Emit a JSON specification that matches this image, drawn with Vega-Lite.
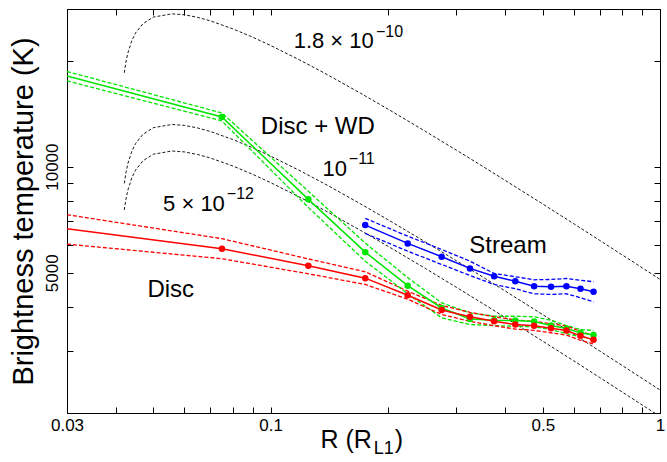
{
  "$schema": "https://vega.github.io/schema/vega-lite/v6.json",
  "width": 593,
  "height": 404,
  "autosize": {"type": "none"},
  "padding": {"left": 67, "top": 9, "right": 7, "bottom": 49},
  "background": "white",
  "config": {
    "view": {"stroke": "black", "strokeWidth": 1},
    "font": "Liberation Sans",
    "axis": {"grid": false, "domainColor": "black", "tickColor": "black", "labelColor": "black", "titleColor": "black", "labelFont": "Liberation Sans", "titleFont": "Liberation Sans", "labelFontSize": 17, "titleFontWeight": "normal", "labelOverlap": false, "labelFlush": false}
  },
  "datasets": {
    "models": [
      {"rate": "5e-12", "R": 0.0421, "T": 7537}, {"rate": "5e-12", "R": 0.0425, "T": 8072}, {"rate": "5e-12", "R": 0.043, "T": 8579}, {"rate": "5e-12", "R": 0.044, "T": 9292}, {"rate": "5e-12", "R": 0.045, "T": 9777}, {"rate": "5e-12", "R": 0.047, "T": 10387}, {"rate": "5e-12", "R": 0.05, "T": 10845}, {"rate": "5e-12", "R": 0.0558, "T": 11074}, {"rate": "5e-12", "R": 0.06, "T": 11010}, {"rate": "5e-12", "R": 0.065, "T": 10822}, {"rate": "5e-12", "R": 0.07, "T": 10580}, {"rate": "5e-12", "R": 0.08, "T": 10039}, {"rate": "5e-12", "R": 0.09, "T": 9506}, {"rate": "5e-12", "R": 0.1, "T": 9008}, {"rate": "5e-12", "R": 0.12, "T": 8145}, {"rate": "5e-12", "R": 0.14, "T": 7439}, {"rate": "5e-12", "R": 0.17, "T": 6598}, {"rate": "5e-12", "R": 0.2, "T": 5948}, {"rate": "5e-12", "R": 0.25, "T": 5138}, {"rate": "5e-12", "R": 0.3, "T": 4546}, {"rate": "5e-12", "R": 0.35, "T": 4094}, {"rate": "5e-12", "R": 0.4, "T": 3734}, {"rate": "5e-12", "R": 0.5, "T": 3197}, {"rate": "5e-12", "R": 0.6, "T": 2813}, {"rate": "5e-12", "R": 0.7, "T": 2522}, {"rate": "5e-12", "R": 0.8, "T": 2293}, {"rate": "5e-12", "R": 0.9, "T": 2108}, {"rate": "5e-12", "R": 1.0, "T": 1955},
      {"rate": "1e-11", "R": 0.0421, "T": 8963}, {"rate": "1e-11", "R": 0.0425, "T": 9599}, {"rate": "1e-11", "R": 0.043, "T": 10202}, {"rate": "1e-11", "R": 0.044, "T": 11050}, {"rate": "1e-11", "R": 0.045, "T": 11627}, {"rate": "1e-11", "R": 0.047, "T": 12352}, {"rate": "1e-11", "R": 0.05, "T": 12897}, {"rate": "1e-11", "R": 0.0558, "T": 13169}, {"rate": "1e-11", "R": 0.06, "T": 13093}, {"rate": "1e-11", "R": 0.065, "T": 12870}, {"rate": "1e-11", "R": 0.07, "T": 12582}, {"rate": "1e-11", "R": 0.08, "T": 11938}, {"rate": "1e-11", "R": 0.09, "T": 11305}, {"rate": "1e-11", "R": 0.1, "T": 10712}, {"rate": "1e-11", "R": 0.12, "T": 9686}, {"rate": "1e-11", "R": 0.14, "T": 8847}, {"rate": "1e-11", "R": 0.17, "T": 7846}, {"rate": "1e-11", "R": 0.2, "T": 7074}, {"rate": "1e-11", "R": 0.25, "T": 6110}, {"rate": "1e-11", "R": 0.3, "T": 5406}, {"rate": "1e-11", "R": 0.35, "T": 4869}, {"rate": "1e-11", "R": 0.4, "T": 4440}, {"rate": "1e-11", "R": 0.5, "T": 3802}, {"rate": "1e-11", "R": 0.6, "T": 3345}, {"rate": "1e-11", "R": 0.7, "T": 2999}, {"rate": "1e-11", "R": 0.8, "T": 2727}, {"rate": "1e-11", "R": 0.9, "T": 2507}, {"rate": "1e-11", "R": 1.0, "T": 2325},
      {"rate": "1.8e-10", "R": 0.0421, "T": 18462}, {"rate": "1.8e-10", "R": 0.0425, "T": 19772}, {"rate": "1.8e-10", "R": 0.043, "T": 21014}, {"rate": "1.8e-10", "R": 0.044, "T": 22761}, {"rate": "1.8e-10", "R": 0.045, "T": 23948}, {"rate": "1.8e-10", "R": 0.047, "T": 25443}, {"rate": "1.8e-10", "R": 0.05, "T": 26565}, {"rate": "1.8e-10", "R": 0.0558, "T": 27126}, {"rate": "1.8e-10", "R": 0.06, "T": 26969}, {"rate": "1.8e-10", "R": 0.065, "T": 26509}, {"rate": "1.8e-10", "R": 0.07, "T": 25916}, {"rate": "1.8e-10", "R": 0.08, "T": 24590}, {"rate": "1.8e-10", "R": 0.09, "T": 23285}, {"rate": "1.8e-10", "R": 0.1, "T": 22065}, {"rate": "1.8e-10", "R": 0.12, "T": 19951}, {"rate": "1.8e-10", "R": 0.14, "T": 18222}, {"rate": "1.8e-10", "R": 0.17, "T": 16162}, {"rate": "1.8e-10", "R": 0.2, "T": 14570}, {"rate": "1.8e-10", "R": 0.25, "T": 12585}, {"rate": "1.8e-10", "R": 0.3, "T": 11135}, {"rate": "1.8e-10", "R": 0.35, "T": 10028}, {"rate": "1.8e-10", "R": 0.4, "T": 9146}, {"rate": "1.8e-10", "R": 0.5, "T": 7831}, {"rate": "1.8e-10", "R": 0.6, "T": 6890}, {"rate": "1.8e-10", "R": 0.7, "T": 6178}, {"rate": "1.8e-10", "R": 0.8, "T": 5617}, {"rate": "1.8e-10", "R": 0.9, "T": 5164}, {"rate": "1.8e-10", "R": 1.0, "T": 4789}
    ],
    "obs": [
      {"series": "Disc + WD", "R": 0.03, "T": 18090, "lo": 17507, "hi": 18616},
      {"series": "Disc + WD", "R": 0.075, "T": 13830, "lo": 13473, "hi": 14197},
      {"series": "Disc + WD", "R": 0.125, "T": 8075, "lo": 7661, "hi": 8511},
      {"series": "Disc + WD", "R": 0.175, "T": 5720, "lo": 5391, "hi": 6069},
      {"series": "Disc + WD", "R": 0.225, "T": 4594, "lo": 4359, "hi": 4842},
      {"series": "Disc + WD", "R": 0.275, "T": 3972, "lo": 3724, "hi": 4108},
      {"series": "Disc + WD", "R": 0.325, "T": 3695, "lo": 3565, "hi": 3847},
      {"series": "Disc + WD", "R": 0.375, "T": 3666, "lo": 3541, "hi": 3763},
      {"series": "Disc + WD", "R": 0.425, "T": 3659, "lo": 3525, "hi": 3763},
      {"series": "Disc + WD", "R": 0.475, "T": 3635, "lo": 3511, "hi": 3749},
      {"series": "Disc + WD", "R": 0.525, "T": 3541, "lo": 3450, "hi": 3666},
      {"series": "Disc + WD", "R": 0.575, "T": 3472, "lo": 3361, "hi": 3541},
      {"series": "Disc + WD", "R": 0.625, "T": 3376, "lo": 3289, "hi": 3450},
      {"series": "Disc + WD", "R": 0.675, "T": 3328, "lo": 3247, "hi": 3428},
      {"series": "Disc", "R": 0.03, "T": 6666, "lo": 6027, "hi": 7305},
      {"series": "Disc", "R": 0.075, "T": 5848, "lo": 5479, "hi": 6245},
      {"series": "Disc", "R": 0.125, "T": 5233, "lo": 4966, "hi": 5473},
      {"series": "Disc", "R": 0.175, "T": 4826, "lo": 4631, "hi": 5031},
      {"series": "Disc", "R": 0.225, "T": 4317, "lo": 4206, "hi": 4433},
      {"series": "Disc", "R": 0.275, "T": 3920, "lo": 3806, "hi": 4038},
      {"series": "Disc", "R": 0.325, "T": 3749, "lo": 3640, "hi": 3861},
      {"series": "Disc", "R": 0.375, "T": 3642, "lo": 3536, "hi": 3751},
      {"series": "Disc", "R": 0.425, "T": 3565, "lo": 3461, "hi": 3672},
      {"series": "Disc", "R": 0.475, "T": 3534, "lo": 3431, "hi": 3640},
      {"series": "Disc", "R": 0.525, "T": 3479, "lo": 3378, "hi": 3583},
      {"series": "Disc", "R": 0.575, "T": 3427, "lo": 3327, "hi": 3530},
      {"series": "Disc", "R": 0.625, "T": 3311, "lo": 3215, "hi": 3410},
      {"series": "Disc", "R": 0.675, "T": 3225, "lo": 3140, "hi": 3312},
      {"series": "Stream", "R": 0.175, "T": 6825, "lo": 6463, "hi": 7131},
      {"series": "Stream", "R": 0.225, "T": 6056, "lo": 5756, "hi": 6349},
      {"series": "Stream", "R": 0.275, "T": 5552, "lo": 5277, "hi": 5821},
      {"series": "Stream", "R": 0.325, "T": 5143, "lo": 4911, "hi": 5393},
      {"series": "Stream", "R": 0.375, "T": 4889, "lo": 4631, "hi": 4976},
      {"series": "Stream", "R": 0.425, "T": 4732, "lo": 4503, "hi": 4870},
      {"series": "Stream", "R": 0.475, "T": 4580, "lo": 4358, "hi": 4775},
      {"series": "Stream", "R": 0.525, "T": 4562, "lo": 4338, "hi": 4784},
      {"series": "Stream", "R": 0.575, "T": 4580, "lo": 4358, "hi": 4816},
      {"series": "Stream", "R": 0.625, "T": 4503, "lo": 4245, "hi": 4762},
      {"series": "Stream", "R": 0.675, "T": 4415, "lo": 4135, "hi": 4713}
    ],
    "labels": [
      {"kind": "c", "text": "Disc + WD", "R": 0.1322, "T": 12352},
      {"kind": "c", "text": "Stream", "R": 0.4069, "T": 5671},
      {"kind": "c", "text": "Disc", "R": 0.0554, "T": 4254},
      {"kind": "r", "text": "1.8 × 10", "R": 0.1841, "T": 21680},
      {"kind": "sup", "text": "−10", "R": 0.1864, "T": 23295},
      {"kind": "r", "text": "10", "R": 0.157, "T": 9385},
      {"kind": "sup", "text": "−11", "R": 0.1588, "T": 10151},
      {"kind": "r", "text": "5 × 10", "R": 0.0763, "T": 7464},
      {"kind": "sup", "text": "−12", "R": 0.0772, "T": 8074},
      {"kind": "xt", "text": "R (R", "R": 0.182, "T": 1594},
      {"kind": "xsub", "text": "L1", "R": 0.1841, "T": 1533},
      {"kind": "xp", "text": ")", "R": 0.2085, "T": 1594}
    ]
  },
  "resolve": {"axis": {"x": "independent", "y": "independent"}},
  "layer": [
    {
      "data": {"name": "models"},
      "mark": {"type": "line", "color": "black", "strokeWidth": 0.9, "strokeDash": [3, 2], "clip": true},
      "encoding": {
        "x": {"field": "R", "type": "quantitative", "scale": {"type": "log", "domain": [0.03, 1]},
          "axis": {"orient": "bottom", "title": null, "values": [0.03, 0.04, 0.05, 0.06, 0.07, 0.08, 0.09, 0.1, 0.2, 0.3, 0.4, 0.5, 0.6, 0.7, 0.8, 0.9, 1], "format": "~g", "labelExpr": "indexof(['0.03','0.1','0.5','1'], datum.label) >= 0 ? datum.label : ''", "tickSize": -6, "labelPadding": 10, "labelFontSize": 17}},
        "y": {"field": "T", "type": "quantitative", "scale": {"type": "log", "domain": [2000, 28000]},
          "axis": {"orient": "left", "title": "Brightness temperature (K)", "titleFontSize": 29, "titlePadding": 5, "values": [3000, 4000, 5000, 6000, 7000, 8000, 9000, 10000, 20000], "labelExpr": "datum.value == 5000 || datum.value == 10000 ? format(datum.value, 'd') : ''", "labelAngle": 270, "tickSize": -6, "labelPadding": 12, "labelFontSize": 17}},
        "detail": {"field": "rate", "type": "nominal"}
      }
    },
    {
      "data": {"name": "models"},
      "mark": {"type": "point", "opacity": 0},
      "encoding": {
        "x": {"field": "R", "type": "quantitative", "scale": {"type": "log", "domain": [0.03, 1]},
          "axis": {"orient": "top", "title": null, "labels": false, "values": [0.03, 0.04, 0.05, 0.06, 0.07, 0.08, 0.09, 0.1, 0.2, 0.3, 0.4, 0.5, 0.6, 0.7, 0.8, 0.9, 1], "tickSize": -6}},
        "y": {"field": "T", "type": "quantitative", "scale": {"type": "log", "domain": [2000, 28000]},
          "axis": {"orient": "right", "title": null, "labels": false, "values": [3000, 4000, 5000, 6000, 7000, 8000, 9000, 10000, 20000], "tickSize": -6}}
      }
    },
    {
      "data": {"name": "obs"},
      "mark": {"type": "line", "strokeWidth": 1.3, "strokeDash": [4, 2], "clip": true},
      "encoding": {
        "x": {"field": "R", "type": "quantitative", "scale": {"type": "log", "domain": [0.03, 1]}, "axis": null},
        "y": {"field": "hi", "type": "quantitative", "scale": {"type": "log", "domain": [2000, 28000]}, "axis": null},
        "color": {"field": "series", "type": "nominal", "scale": {"domain": ["Disc + WD", "Disc", "Stream"], "range": ["#00e600", "#ff0000", "#0000ff"]}, "legend": null}
      }
    },
    {
      "data": {"name": "obs"},
      "mark": {"type": "line", "strokeWidth": 1.3, "strokeDash": [4, 2], "clip": true},
      "encoding": {
        "x": {"field": "R", "type": "quantitative", "scale": {"type": "log", "domain": [0.03, 1]}, "axis": null},
        "y": {"field": "lo", "type": "quantitative", "scale": {"type": "log", "domain": [2000, 28000]}, "axis": null},
        "color": {"field": "series", "type": "nominal", "scale": {"domain": ["Disc + WD", "Disc", "Stream"], "range": ["#00e600", "#ff0000", "#0000ff"]}, "legend": null}
      }
    },
    {
      "data": {"name": "obs"},
      "mark": {"type": "line", "strokeWidth": 1.5, "clip": true},
      "encoding": {
        "x": {"field": "R", "type": "quantitative", "scale": {"type": "log", "domain": [0.03, 1]}, "axis": null},
        "y": {"field": "T", "type": "quantitative", "scale": {"type": "log", "domain": [2000, 28000]}, "axis": null},
        "color": {"field": "series", "type": "nominal", "scale": {"domain": ["Disc + WD", "Disc", "Stream"], "range": ["#00e600", "#ff0000", "#0000ff"]}, "legend": null}
      }
    },
    {
      "data": {"name": "obs"},
      "transform": [{"filter": "datum.R > 0.031"}],
      "mark": {"type": "point", "filled": true, "opacity": 1, "size": 42},
      "encoding": {
        "x": {"field": "R", "type": "quantitative", "scale": {"type": "log", "domain": [0.03, 1]}, "axis": null},
        "y": {"field": "T", "type": "quantitative", "scale": {"type": "log", "domain": [2000, 28000]}, "axis": null},
        "color": {"field": "series", "type": "nominal", "scale": {"domain": ["Disc + WD", "Disc", "Stream"], "range": ["#00e600", "#ff0000", "#0000ff"]}, "legend": null}
      }
    },
    {
      "data": {"name": "labels"},
      "transform": [{"filter": "datum.kind == 'c'"}],
      "mark": {"type": "text", "fontSize": 24, "align": "center", "baseline": "alphabetic", "color": "black"},
      "encoding": {
        "x": {"field": "R", "type": "quantitative", "scale": {"type": "log", "domain": [0.03, 1]}, "axis": null},
        "y": {"field": "T", "type": "quantitative", "scale": {"type": "log", "domain": [2000, 28000]}, "axis": null},
        "text": {"field": "text"}
      }
    },
    {
      "data": {"name": "labels"},
      "transform": [{"filter": "datum.kind == 'r'"}],
      "mark": {"type": "text", "fontSize": 22, "align": "right", "baseline": "alphabetic", "color": "black"},
      "encoding": {
        "x": {"field": "R", "type": "quantitative", "scale": {"type": "log", "domain": [0.03, 1]}, "axis": null},
        "y": {"field": "T", "type": "quantitative", "scale": {"type": "log", "domain": [2000, 28000]}, "axis": null},
        "text": {"field": "text"}
      }
    },
    {
      "data": {"name": "labels"},
      "transform": [{"filter": "datum.kind == 'sup'"}],
      "mark": {"type": "text", "fontSize": 16, "align": "left", "baseline": "alphabetic", "color": "black"},
      "encoding": {
        "x": {"field": "R", "type": "quantitative", "scale": {"type": "log", "domain": [0.03, 1]}, "axis": null},
        "y": {"field": "T", "type": "quantitative", "scale": {"type": "log", "domain": [2000, 28000]}, "axis": null},
        "text": {"field": "text"}
      }
    },
    {
      "data": {"name": "labels"},
      "transform": [{"filter": "datum.kind == 'xt'"}],
      "mark": {"type": "text", "fontSize": 25, "align": "right", "baseline": "alphabetic", "color": "black"},
      "encoding": {
        "x": {"field": "R", "type": "quantitative", "scale": {"type": "log", "domain": [0.03, 1]}, "axis": null},
        "y": {"field": "T", "type": "quantitative", "scale": {"type": "log", "domain": [2000, 28000]}, "axis": null},
        "text": {"field": "text"}
      }
    },
    {
      "data": {"name": "labels"},
      "transform": [{"filter": "datum.kind == 'xsub'"}],
      "mark": {"type": "text", "fontSize": 18, "align": "left", "baseline": "alphabetic", "color": "black"},
      "encoding": {
        "x": {"field": "R", "type": "quantitative", "scale": {"type": "log", "domain": [0.03, 1]}, "axis": null},
        "y": {"field": "T", "type": "quantitative", "scale": {"type": "log", "domain": [2000, 28000]}, "axis": null},
        "text": {"field": "text"}
      }
    },
    {
      "data": {"name": "labels"},
      "transform": [{"filter": "datum.kind == 'xp'"}],
      "mark": {"type": "text", "fontSize": 25, "align": "left", "baseline": "alphabetic", "color": "black"},
      "encoding": {
        "x": {"field": "R", "type": "quantitative", "scale": {"type": "log", "domain": [0.03, 1]}, "axis": null},
        "y": {"field": "T", "type": "quantitative", "scale": {"type": "log", "domain": [2000, 28000]}, "axis": null},
        "text": {"field": "text"}
      }
    }
  ]
}
